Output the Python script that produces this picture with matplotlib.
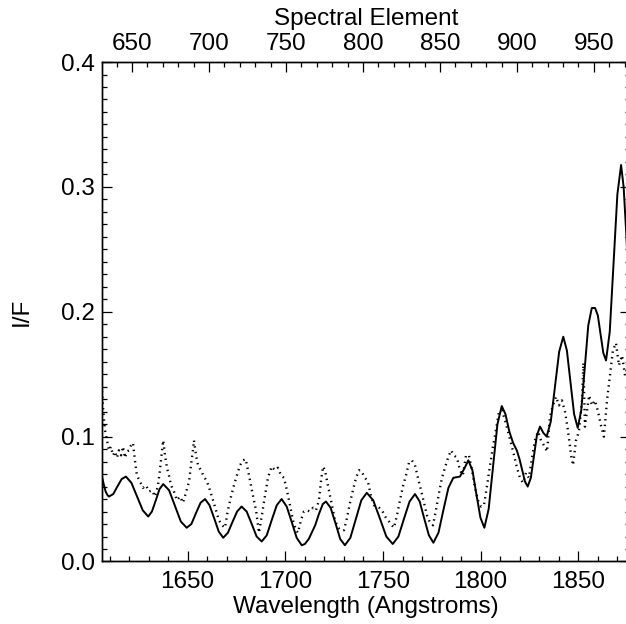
import numpy as np
import matplotlib
matplotlib.use("Agg")
import matplotlib.pyplot as plt
from matplotlib.ticker import MultipleLocator

plt.rcParams['font.family'] = ['Liberation Sans', 'DejaVu Sans']

# Solid curve (model) : wavelength (Angstrom), I/F
model_wl = [1606.0, 1607.0, 1608.0, 1609.0, 1609.7, 1611.9, 1614.0, 1616.2, 1618.4,
            1621.2, 1624.1, 1627.0, 1629.8, 1631.7, 1633.7, 1635.6, 1637.5,
            1640.5, 1643.5, 1646.5, 1649.5, 1651.9, 1654.2, 1656.6, 1658.9,
            1661.2, 1663.6, 1665.9, 1668.2, 1670.6, 1672.9, 1675.3, 1677.6,
            1680.2, 1682.8, 1685.3, 1687.9, 1690.5, 1693.0, 1695.6, 1698.1,
            1700.7, 1703.3, 1705.8, 1708.4, 1710.0, 1712.0, 1713.5, 1715.3, 1717.2, 1719.2, 1720.8,
            1723.2, 1725.7, 1728.1, 1730.5, 1733.3, 1736.1, 1738.9, 1741.7,
            1745.0, 1748.4, 1751.7, 1755.0, 1757.9, 1760.7, 1763.6, 1766.4,
            1768.8, 1771.1, 1773.5, 1775.8, 1778.4, 1780.9, 1783.5, 1786.0,
            1789.4, 1791.5, 1793.7, 1795.8, 1797.8, 1799.9, 1801.9,
            1804.1, 1806.35, 1808.6, 1810.8, 1812.7, 1814.7, 1816.6, 1818.5,
            1819.9, 1821.3, 1822.7, 1824.1, 1825.7, 1827.25, 1828.8, 1830.4,
            1832.1, 1833.8, 1835.9, 1838.05, 1840.2, 1842.3, 1844.15, 1846.0,
            1847.85, 1849.7, 1851.5, 1853.3, 1855.1, 1856.9, 1858.6, 1860.0,
            1861.4, 1862.8, 1864.2, 1866.1, 1868.05, 1870.0, 1871.9, 1873.2,
            1874.5, 1876.5]
model_if = [0.069, 0.062, 0.056, 0.053, 0.052, 0.054, 0.060, 0.066, 0.068,
            0.063, 0.052, 0.041, 0.036, 0.040, 0.049, 0.058, 0.062,
            0.057, 0.0445, 0.032, 0.027, 0.030, 0.0385, 0.047, 0.050,
            0.045, 0.0345, 0.024, 0.019, 0.023, 0.0315, 0.040, 0.044,
            0.040, 0.030, 0.020, 0.016, 0.021, 0.033, 0.045, 0.050,
            0.044, 0.0315, 0.019, 0.013, 0.014, 0.018, 0.023, 0.029, 0.038, 0.046, 0.048,
            0.043, 0.0305, 0.018, 0.013, 0.019, 0.034, 0.049, 0.055,
            0.049, 0.0345, 0.020, 0.014, 0.020, 0.034, 0.048, 0.054,
            0.048, 0.0345, 0.021, 0.015, 0.023, 0.041, 0.059, 0.067,
            0.068, 0.074, 0.081, 0.073, 0.054, 0.035, 0.027,
            0.042, 0.076, 0.110, 0.1245, 0.118, 0.104, 0.095, 0.089,
            0.082, 0.073, 0.064, 0.060, 0.067, 0.084, 0.101, 0.108,
            0.103, 0.100, 0.112, 0.140, 0.168, 0.180, 0.169, 0.1435,
            0.118, 0.107, 0.121, 0.155, 0.189, 0.203, 0.203, 0.197,
            0.182, 0.167, 0.161, 0.184, 0.239, 0.294, 0.3175, 0.300,
            0.264, 0.200]

# Dotted curve (observation)
obs_wl = [1606.0, 1606.6, 1607.2, 1607.7, 1608.7, 1609.7, 1610.7, 1611.8, 1612.8, 1613.8,
          1614.8, 1615.9, 1616.9, 1617.9, 1618.9, 1619.9, 1621.0, 1622.0, 1623.0, 1624.0,
          1625.6, 1627.1, 1628.7, 1630.2, 1631.7, 1633.3, 1634.8, 1635.8, 1636.8, 1637.5,
          1638.4, 1639.4, 1640.4, 1641.5, 1643.0, 1644.5, 1646.1, 1647.6, 1649.1, 1650.7,
          1651.7, 1652.7, 1653.2, 1654.3, 1655.3, 1656.8, 1658.3, 1659.9, 1661.4, 1663.0,
          1664.5, 1666.0, 1667.6, 1669.1, 1670.6, 1672.2, 1673.7, 1675.2, 1676.8, 1678.3,
          1679.7, 1680.9, 1681.9, 1683.4, 1685.0, 1686.5, 1688.0, 1689.6, 1691.1, 1693.0,
          1694.7, 1696.2, 1697.8, 1699.3, 1700.8, 1702.4, 1703.9, 1705.5, 1706.5, 1708.0,
          1709.5, 1711.1, 1712.6, 1714.2, 1715.7, 1717.2, 1718.3, 1719.3, 1720.3, 1721.3,
          1722.3, 1723.9, 1725.4, 1727.0, 1728.5, 1730.0, 1731.6, 1733.1, 1734.6, 1736.2,
          1737.7, 1738.7, 1740.8, 1742.3, 1743.9, 1745.4, 1747.4, 1749.5, 1751.5, 1753.6,
          1755.6, 1757.2, 1758.7, 1760.2, 1761.8, 1763.3, 1764.8, 1766.4, 1767.9, 1769.5,
          1771.0, 1772.5, 1774.1, 1775.6, 1777.1, 1778.7, 1780.2, 1781.7, 1783.3, 1784.8,
          1786.3, 1787.9, 1789.4, 1790.9, 1792.5, 1794.0, 1795.6, 1797.1, 1798.6, 1800.2,
          1801.7, 1803.2, 1804.8, 1806.3, 1807.8, 1809.4, 1810.9, 1812.5, 1814.0, 1815.5,
          1817.1, 1818.6, 1820.1, 1821.7, 1823.2, 1824.7, 1826.3, 1827.8, 1829.4, 1830.9,
          1832.4, 1834.0, 1835.5, 1837.0, 1838.6, 1840.1, 1841.6, 1843.2, 1844.7, 1846.3,
          1847.3, 1848.8, 1850.3, 1851.9, 1852.6, 1853.4, 1855.5, 1857.0, 1858.5, 1860.1,
          1861.6, 1863.1, 1864.7, 1866.2, 1867.7, 1869.3, 1870.8, 1872.4, 1873.9, 1875.4,
          1876.5]
obs_if = [0.141, 0.125, 0.113, 0.105, 0.097, 0.089, 0.092, 0.085, 0.088, 0.083,
          0.089, 0.085, 0.092, 0.083, 0.088, 0.089, 0.093, 0.095, 0.081, 0.069,
          0.064, 0.059, 0.061, 0.056, 0.057, 0.052, 0.061, 0.073, 0.088, 0.097,
          0.085, 0.075, 0.069, 0.061, 0.056, 0.049, 0.052, 0.047, 0.055, 0.064,
          0.077, 0.089, 0.097, 0.085, 0.077, 0.073, 0.068, 0.064, 0.057, 0.049,
          0.041, 0.033, 0.029, 0.027, 0.041, 0.052, 0.061, 0.069, 0.077, 0.081,
          0.082, 0.073, 0.065, 0.053, 0.041, 0.023, 0.037, 0.053, 0.067, 0.076,
          0.073, 0.075, 0.069, 0.067, 0.057, 0.045, 0.033, 0.025, 0.023, 0.033,
          0.040, 0.041, 0.040, 0.043, 0.041, 0.049, 0.065, 0.076, 0.073, 0.065,
          0.057, 0.045, 0.033, 0.027, 0.025, 0.025, 0.035, 0.047, 0.057, 0.067,
          0.073, 0.073, 0.067, 0.064, 0.052, 0.045, 0.044, 0.041, 0.035, 0.031,
          0.027, 0.037, 0.049, 0.060, 0.069, 0.079, 0.081, 0.077, 0.067, 0.057,
          0.047, 0.037, 0.031, 0.029, 0.041, 0.055, 0.067, 0.075, 0.083, 0.089,
          0.085, 0.083, 0.073, 0.069, 0.085, 0.085, 0.073, 0.059, 0.049, 0.044,
          0.045, 0.060, 0.077, 0.092, 0.105, 0.120, 0.121, 0.113, 0.104, 0.095,
          0.085, 0.075, 0.067, 0.063, 0.071, 0.067, 0.083, 0.097, 0.104, 0.097,
          0.093, 0.088, 0.116, 0.125, 0.132, 0.125, 0.129, 0.120, 0.105, 0.085,
          0.077, 0.097, 0.104, 0.129, 0.159, 0.108, 0.133, 0.125, 0.129, 0.120,
          0.109, 0.100, 0.129, 0.149, 0.169, 0.175, 0.157, 0.165, 0.149, 0.157,
          0.153]

wl_range = [1606.0, 1876.5]
element_range = [630.3, 973.5]
y_range = [0.0, 0.4]

fig = plt.figure(figsize=(6.26, 6.24), dpi=100)
ax = fig.add_axes([0.1625, 0.1002, 0.844, 0.8004])

ax.plot(model_wl, model_if, color='black', lw=1.4, solid_joinstyle='round')
ax.plot(obs_wl, obs_if, color='black', lw=1.7, linestyle=(0, (0.6, 1.8)),
        dash_capstyle='butt')

ax.set_xlim(wl_range)
ax.set_ylim(y_range)

fs = 17.5
ax.xaxis.set_major_locator(MultipleLocator(50))
ax.xaxis.set_minor_locator(MultipleLocator(10))
ax.yaxis.set_major_locator(MultipleLocator(0.1))
ax.yaxis.set_minor_locator(MultipleLocator(0.01))
ax.yaxis.set_major_formatter(matplotlib.ticker.FormatStrFormatter('%.1f'))
ax.tick_params(which='both', direction='in', top=False, right=True, labelsize=fs,
               width=0.9, color='black')
ax.tick_params(which='major', length=7.2)
ax.tick_params(which='minor', length=3.6)
ax.tick_params(axis='x', which='major', pad=7)
ax.tick_params(axis='y', which='major', pad=5)

ax.set_xlabel('Wavelength (Angstroms)', fontsize=fs, labelpad=2)
ax.set_ylabel('I/F', fontsize=fs, labelpad=20)

ax2 = ax.twiny()
ax2.set_xlim(element_range)
ax2.xaxis.set_major_locator(MultipleLocator(50))
ax2.xaxis.set_minor_locator(MultipleLocator(10))
ax2.tick_params(which='both', direction='in', labelsize=fs, width=0.9)
ax2.tick_params(which='major', length=7.2, pad=5)
ax2.tick_params(which='minor', length=3.6)
ax2.set_xlabel('Spectral Element', fontsize=fs, labelpad=6)

for a in (ax, ax2):
    for s in a.spines.values():
        s.set_linewidth(1.0)

fig.savefig('out.png', dpi=100)
